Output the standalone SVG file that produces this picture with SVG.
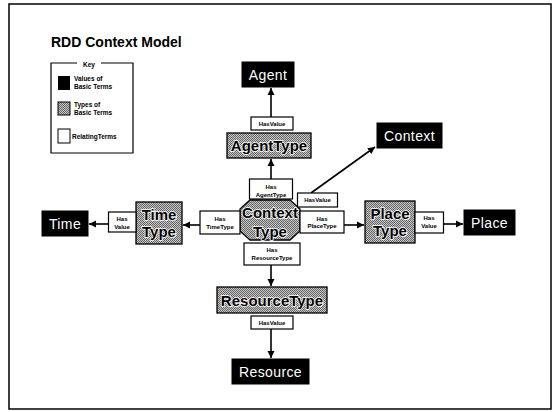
<svg xmlns="http://www.w3.org/2000/svg" width="554" height="412" viewBox="0 0 554 412">
<style>
.frame{fill:#fff;stroke:#000;stroke-width:1.5}
.val{fill:#000;stroke:#000;stroke-width:1}
.vt{font-family:"Liberation Sans",Arial,sans-serif;font-size:14px;fill:#fff;text-anchor:middle;letter-spacing:0.4px}
.typ{fill:url(#stip);stroke:#000;stroke-width:1.3}
.tt{font-family:"Liberation Sans",Arial,sans-serif;font-size:15px;font-weight:bold;fill:#000;stroke:#fff;stroke-width:1.6;paint-order:stroke;text-anchor:middle}
.rel{fill:#fff;stroke:#000;stroke-width:1.2}
.rt{font-family:"Liberation Sans",Arial,sans-serif;font-size:6px;font-weight:bold;fill:#000;text-anchor:middle}
.kt{font-family:"Liberation Sans",Arial,sans-serif;font-size:6.5px;font-weight:bold;fill:#000}
.con{stroke:#000;stroke-width:1.6;fill:none;marker-end:url(#ah)}
.d{fill:#666}
</style>
<defs>
<pattern id="stip" width="2" height="2" patternUnits="userSpaceOnUse">
<rect width="2" height="2" fill="#c6c6c6"/>
<rect class="d" x="0" y="0" width="1" height="1"/>
<rect class="d" x="1" y="1" width="1" height="1"/>
</pattern>
<marker id="ah" markerWidth="8" markerHeight="8" refX="7" refY="4" orient="auto" markerUnits="userSpaceOnUse">
<path d="M0,0.5 L7,4 L0,7.5 Z" fill="#000"/>
</marker>
</defs>
<rect class="frame" x="9" y="4" width="542" height="405"/>
<text x="51" y="47" font-family="Liberation Sans,Arial,sans-serif" font-size="14" font-weight="bold" fill="#000">RDD Context Model</text>
<g id="key">
<path d="M77,63 H51 V153 H133 V63 H101" fill="none" stroke="#000" stroke-width="1.2"/>
<text x="89" y="67" class="kt" text-anchor="middle">Key</text>
<rect x="58" y="76" width="12" height="14" fill="#000"/>
<text x="74" y="81" class="kt">Values of</text>
<text x="74" y="88.5" class="kt">Basic Terms</text>
<rect x="58" y="102" width="12" height="13" fill="url(#stip)" stroke="#000" stroke-width="1"/>
<text x="74" y="107" class="kt">Types of</text>
<text x="74" y="114.5" class="kt">Basic Terms</text>
<rect x="58" y="129" width="12" height="14" fill="#fff" stroke="#000" stroke-width="1"/>
<text x="72" y="139" class="kt" font-size="6">RelatingTerms</text>
</g>
<g id="connectors">
<line class="con" x1="271" y1="117" x2="271" y2="88"/>
<line class="con" x1="271" y1="179" x2="271" y2="159"/>
<line class="con" x1="311" y1="193" x2="375" y2="147"/>
<line class="con" x1="344" y1="225" x2="364" y2="225"/>
<line class="con" x1="443.5" y1="224" x2="463" y2="224"/>
<line class="con" x1="200" y1="225" x2="183" y2="225"/>
<line class="con" x1="108.5" y1="224" x2="89" y2="224"/>
<line class="con" x1="271" y1="265" x2="271" y2="286"/>
<line class="con" x1="271" y1="329" x2="271" y2="358"/>
</g>
<g id="agent"><rect class="val" x="242" y="62" width="52" height="25"/><text class="vt" x="268" y="80">Agent</text></g>
<g id="context"><rect class="val" x="377" y="123" width="65" height="25"/><text class="vt" x="409.5" y="141">Context</text></g>
<g id="time"><rect class="val" x="42" y="211" width="46" height="25"/><text class="vt" x="65" y="229">Time</text></g>
<g id="place"><rect class="val" x="464" y="210" width="51" height="25"/><text class="vt" x="489.5" y="228">Place</text></g>
<g id="resource"><rect class="val" x="232" y="359" width="77" height="25"/><text class="vt" x="270.5" y="377">Resource</text></g>
<g id="agenttype"><rect class="typ" x="227" y="133" width="84" height="25"/><text class="tt" x="269" y="151">AgentType</text></g>
<g id="timetype"><rect class="typ" x="136" y="202" width="46" height="42"/><text class="tt" x="159" y="220">Time</text><text class="tt" x="159" y="237">Type</text></g>
<g id="placetype"><rect class="typ" x="365" y="201" width="50" height="42"/><text class="tt" x="390" y="219">Place</text><text class="tt" x="390" y="236">Type</text></g>
<g id="resourcetype"><rect class="typ" x="217" y="287" width="110" height="26"/><text class="tt" x="272" y="306" font-size="14.5">ResourceType</text></g>
<g id="contexttype"><polygon class="typ" points="250,200 290,200 300,209 300,231 290,240 250,240 240,231 240,209"/><text class="tt" x="270" y="218">Context</text><text class="tt" x="270" y="237">Type</text></g>
<g id="hv-agent"><rect class="rel" x="251" y="117" width="42" height="13"/><text class="rt" x="272" y="125.5">HasValue</text></g>
<g id="has-agenttype"><rect class="rel" x="249.5" y="179" width="43" height="20"/><text class="rt" x="271" y="189">Has</text><text class="rt" x="271" y="196.5">AgentType</text></g>
<g id="hv-context"><rect class="rel" x="297.5" y="193" width="40" height="14"/><text class="rt" x="317.5" y="202">HasValue</text></g>
<g id="has-timetype"><rect class="rel" x="200" y="211" width="40" height="23"/><text class="rt" x="220" y="221">Has</text><text class="rt" x="220" y="229">TimeType</text></g>
<g id="has-placetype"><rect class="rel" x="300" y="211" width="44" height="22"/><text class="rt" x="322" y="220.5">Has</text><text class="rt" x="322" y="228">PlaceType</text></g>
<g id="hv-place"><rect class="rel" x="415" y="212" width="28.5" height="21"/><text class="rt" x="429" y="219.5">Has</text><text class="rt" x="429" y="227.5">Value</text></g>
<g id="hv-time"><rect class="rel" x="108.5" y="212" width="27.5" height="20"/><text class="rt" x="122" y="221">Has</text><text class="rt" x="122" y="229">Value</text></g>
<g id="has-resourcetype"><rect class="rel" x="244" y="243" width="56" height="22"/><text class="rt" x="272" y="251.5">Has</text><text class="rt" x="272" y="260">ResourceType</text></g>
<g id="hv-resource"><rect class="rel" x="251" y="316" width="42" height="13"/><text class="rt" x="272" y="325">HasValue</text></g>
</svg>
